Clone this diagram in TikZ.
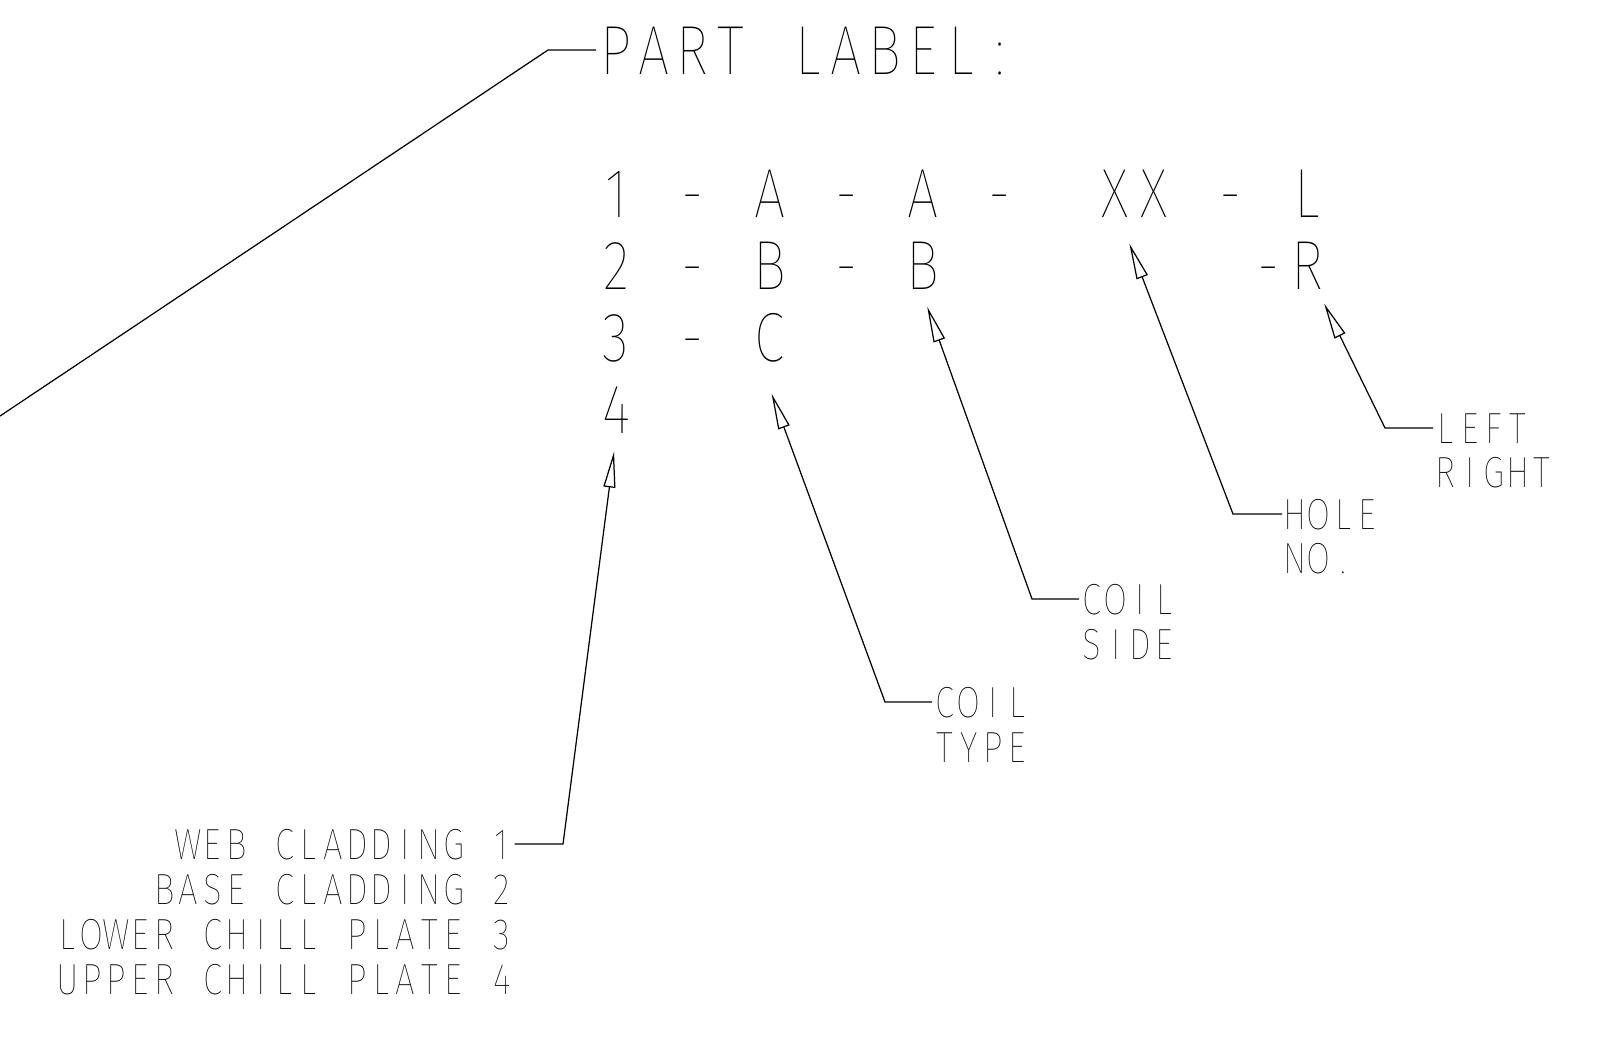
\documentclass[tikz,border=0pt]{standalone}
\usepackage{fontspec}
\usetikzlibrary{arrows.meta}
% thin sans, squeezed
\IfFontExistsTF{Fira Sans Thin}{\newfontfamily\cadfont{Fira Sans Thin}[FakeStretch=0.8]}{%
 \IfFontExistsTF{Lato Thin}{\newfontfamily\cadfont{Lato Thin}[FakeStretch=0.8]}{%
  \IfFontExistsTF{Fira Sans Light}{\newfontfamily\cadfont{Fira Sans Light}[FakeStretch=0.8]}{%
   \newfontfamily\cadfont{Fira Sans}[FakeStretch=0.8]}}}
% fixed pitch, like a plotter font
\ExplSyntaxOn
\NewDocumentCommand{\spaced}{mm}{\str_map_inline:nn{#2}{\makebox[#1][c]{##1}}}
\ExplSyntaxOff
\tikzset{codechar/.style={font=\cadfont\fontsize{19.8}{24}\selectfont,
                          inner sep=0pt,text height=13.66pt,text depth=0pt},
         labeltext/.style={font=\cadfont\fontsize{12.4}{15}\selectfont,
                           inner sep=0pt,text height=8.54pt,text depth=0pt},
         leadline/.style={line width=0.35pt},
         ptr/.style={leadline,-{Triangle[open,length=10.2pt,width=3.4pt]}}}

\begin{document}
\begin{tikzpicture}[x=0.01cm,y=-0.01cm]
    \useasboundingbox (0,0) rectangle (1607,1047);
    \newcommand{\gx}{38.4}
    \newcommand{\sadv}{0.241cm}
    % title
    \node (part) at (596,74) [codechar,anchor=base west]{\spaced{0.384cm}{PART LABEL:}};
    \coordinate (plstart) at (0,416);
    \coordinate (plbend) at (548,50);
    \draw[leadline] (plstart) -- (plbend) -- (part.west);
    % the code rows
    \foreach \i/\c/\n in {0/1/d1,2/-/m1a,4/A/tA,6/-/m1b,8/A/sA,10/-/m1c,16/-/m1d,18/L/lL}
      \node (\n) at ({616+\i*\gx},217) [codechar,anchor=base]{\c};
    \node (hx) at (1134.4,217) [codechar,anchor=base]{\spaced{0.384cm}{XX}};
    \foreach \i/\c/\n in {0/2/d2,2/-/m2a,4/B/tB,6/-/m2b,8/B/sB,17/-/m2c,18/R/lR}
      \node (\n) at ({616+\i*\gx},289) [codechar,anchor=base]{\c};
    \foreach \i/\c/\n in {0/3/d3,2/-/m3a,4/C/tC}
      \node (\n) at ({616+\i*\gx},361) [codechar,anchor=base]{\c};
    \node (d4) at (616,433) [codechar,anchor=base]{4};
    % callouts
    \node (ctype1) at (932,717) [labeltext,anchor=base west]{\spaced{\sadv}{COIL}};
    \node (ctype2) at (932,762) [labeltext,anchor=base west]{\spaced{\sadv}{TYPE}};
    \node (cside1) at (1079,614) [labeltext,anchor=base west]{\spaced{\sadv}{COIL}};
    \node (cside2) at (1079,659) [labeltext,anchor=base west]{\spaced{\sadv}{SIDE}};
    \node (holeno1) at (1282,529) [labeltext,anchor=base west]{\spaced{\sadv}{HOLE}};
    \node (holeno2) at (1282,573) [labeltext,anchor=base west]{\spaced{\sadv}{NO.}};
    \node (lr1) at (1433,443) [labeltext,anchor=base west]{\spaced{\sadv}{LEFT}};
    \node (lr2) at (1433,487) [labeltext,anchor=base west]{\spaced{\sadv}{RIGHT}};
    \node (web1) at (514.6,859) [labeltext,anchor=base east]{\spaced{\sadv}{WEB CLADDING 1}};
    \node (web2) at (514.6,904) [labeltext,anchor=base east]{\spaced{\sadv}{BASE CLADDING 2}};
    \node (web3) at (514.6,949) [labeltext,anchor=base east]{\spaced{\sadv}{LOWER CHILL PLATE 3}};
    \node (web4) at (514.6,994) [labeltext,anchor=base east]{\spaced{\sadv}{UPPER CHILL PLATE 4}};
    \coordinate (webbend) at (563,844);
    \coordinate (typebend) at (885,702);
    \coordinate (sidebend) at (1032,599);
    \coordinate (holebend) at (1233,514);
    \coordinate (lrbend) at (1385,428);
    \draw[ptr] (web1.east) -- (webbend) -- ([shift={(-2,18)}]d4.south);
    \draw[ptr] (ctype1.west) -- (typebend) -- ([shift={(2,32)}]tC.south);
    \draw[ptr] (cside1.west) -- (sidebend) -- ([shift={(4,17)}]sB.south);
    \draw[ptr] (holeno1.west) -- (holebend) -- ([shift={(-5,26)}]hx.south);
    \draw[ptr] (lr1.west) -- (lrbend) -- ([shift={(17,14)}]lR.south);
\end{tikzpicture}
\end{document}
